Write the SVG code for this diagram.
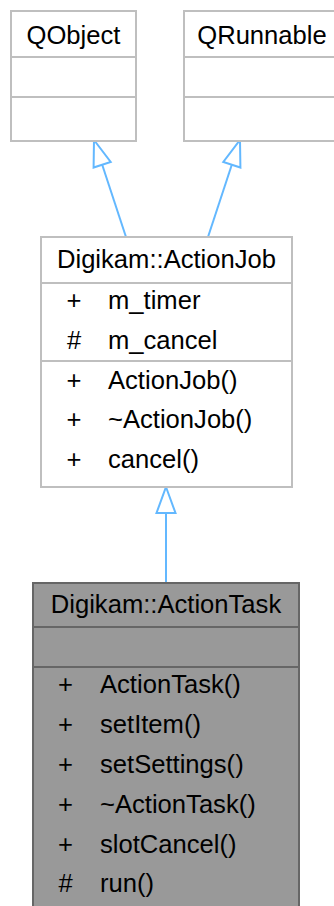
<svg xmlns="http://www.w3.org/2000/svg" width="334" height="906" viewBox="0 0 334 906">
<style>
.box{fill:#ffffff;stroke:#bfbfbf;stroke-width:2}
.sep{stroke:#bfbfbf;stroke-width:2}
.cur{fill:#999999;stroke:#666666;stroke-width:2}
.sepc{stroke:#666666;stroke-width:2}
text{font-family:"Liberation Sans",Arial,Helvetica,sans-serif;font-size:25.6px;fill:#000000}
.c{text-anchor:middle}
.edge{stroke:#63b8ff;stroke-width:2;fill:none}
.head{stroke:#63b8ff;stroke-width:2;fill:#ffffff}
</style>
<rect width="334" height="906" fill="#ffffff"/>
<g id="connectors">
<line class="edge" x1="126" y1="237" x2="102.2" y2="164.7"/>
<polygon class="head" points="94,140 110.7,161.9 93.6,167.5"/>
<line class="edge" x1="208" y1="237" x2="231.8" y2="164.7"/>
<polygon class="head" points="240,140 240.4,167.5 223.3,161.9"/>
<line class="edge" x1="166" y1="513" x2="166" y2="582"/>
<polygon class="head" points="166,487 175.5,513 156.5,513"/>
</g>
<g id="QObject">
<rect class="box" x="11" y="11" width="125" height="130"/>
<line class="sep" x1="11" y1="57" x2="136" y2="57"/>
<line class="sep" x1="11" y1="97" x2="136" y2="97"/>
<text class="c" x="73.5" y="44">QObject</text>
</g>
<g id="QRunnable">
<rect class="box" x="184" y="11" width="157" height="130"/>
<line class="sep" x1="184" y1="57" x2="341" y2="57"/>
<line class="sep" x1="184" y1="97" x2="341" y2="97"/>
<text class="c" x="262" y="44">QRunnable</text>
</g>
<g id="ActionJob">
<rect class="box" x="41" y="237" width="251" height="250"/>
<line class="sep" x1="41" y1="283" x2="292" y2="283"/>
<line class="sep" x1="41" y1="361" x2="292" y2="361"/>
<text class="c" x="166.5" y="268">Digikam::ActionJob</text>
<text class="c" x="74" y="309">+</text><text x="108" y="309">m_timer</text>
<text class="c" x="74" y="348.5">#</text><text x="108" y="348.5">m_cancel</text>
<text class="c" x="74" y="388.5">+</text><text x="108" y="388.5">ActionJob()</text>
<text class="c" x="74" y="428">+</text><text x="108" y="428">~ActionJob()</text>
<text class="c" x="74" y="468">+</text><text x="108" y="468">cancel()</text>
</g>
<g id="ActionTask">
<rect class="cur" x="33" y="583" width="266" height="340"/>
<line class="sepc" x1="33" y1="627" x2="299" y2="627"/>
<line class="sepc" x1="33" y1="667" x2="299" y2="667"/>
<text class="c" x="166" y="613">Digikam::ActionTask</text>
<text class="c" x="65.5" y="693">+</text><text x="100" y="693">ActionTask()</text>
<text class="c" x="65.5" y="733">+</text><text x="100" y="733">setItem()</text>
<text class="c" x="65.5" y="773">+</text><text x="100" y="773">setSettings()</text>
<text class="c" x="65.5" y="813">+</text><text x="100" y="813">~ActionTask()</text>
<text class="c" x="65.5" y="853">+</text><text x="100" y="853">slotCancel()</text>
<text class="c" x="65.5" y="892">#</text><text x="100" y="892">run()</text>
</g>
</svg>
